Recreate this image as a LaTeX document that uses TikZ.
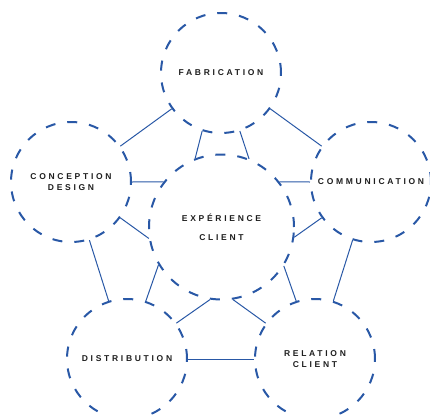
\documentclass[tikz,border=0pt]{standalone}
\usepackage{fontspec}
\setmainfont{Liberation Sans}
\newfontfamily\bubblefont{Liberation Sans}[LetterSpace=32]
\definecolor{dashblue}{RGB}{41,88,166}
\definecolor{inkgray}{RGB}{30,30,30}

\begin{document}
\begin{tikzpicture}[
	x=1bp, y=-1bp,
	bubble/.style = {
		circle, draw=dashblue,
		line width=2bp,
		dash pattern=on 10bp off 12bp,
		minimum size=120bp,
		inner sep=0pt,
		text=inkgray, align=center,
		font=\bubblefont\bfseries\fontsize{8.5bp}{11.5bp}\selectfont,
	},
	hub/.style = {bubble, minimum size=145bp},
	link/.style = {draw=dashblue, line width=1bp},
]

\useasboundingbox (0,0) rectangle (430,415);

% Centre bubble
\node [hub] (exp) at (221.5,227) {EXPÉRIENCE\\[7.5bp]CLIENT};

% Outer bubbles
\node [bubble] (fab)  at (221,73)  {FABRICATION};
\node [bubble] (cd)   at (71,182)  {CONCEPTION\\DESIGN};
\node [bubble] (com)  at (371,182) {COMMUNICATION};
\node [bubble] (dist) at (127,359) {DISTRIBUTION};
\node [bubble] (rc)   at (315,359) {RELATION\\CLIENT};

% Ring between outer bubbles
\draw[link] (fab) -- (cd);
\draw[link] (fab) -- (com);
\draw[link] (cd) -- (dist);
\draw[link] (com) -- (rc);
\draw[link] (dist) -- (rc);

% Spokes to the centre
\draw[link] (fab.252) -- (exp.111);
\draw[link] (fab.288) -- (exp.68);
\draw[link] (cd.0) -- (exp.142);
\draw[link] (cd.324) -- (exp.189);
\draw[link] (com.180) -- (exp.38);
\draw[link] (com.216) -- (exp.352);
\draw[link] (dist.72) -- (exp.211);
\draw[link] (dist.36) -- (exp.261);
\draw[link] (rc.108) -- (exp.328);
\draw[link] (rc.144) -- (exp.279);

\end{tikzpicture}
\end{document}
